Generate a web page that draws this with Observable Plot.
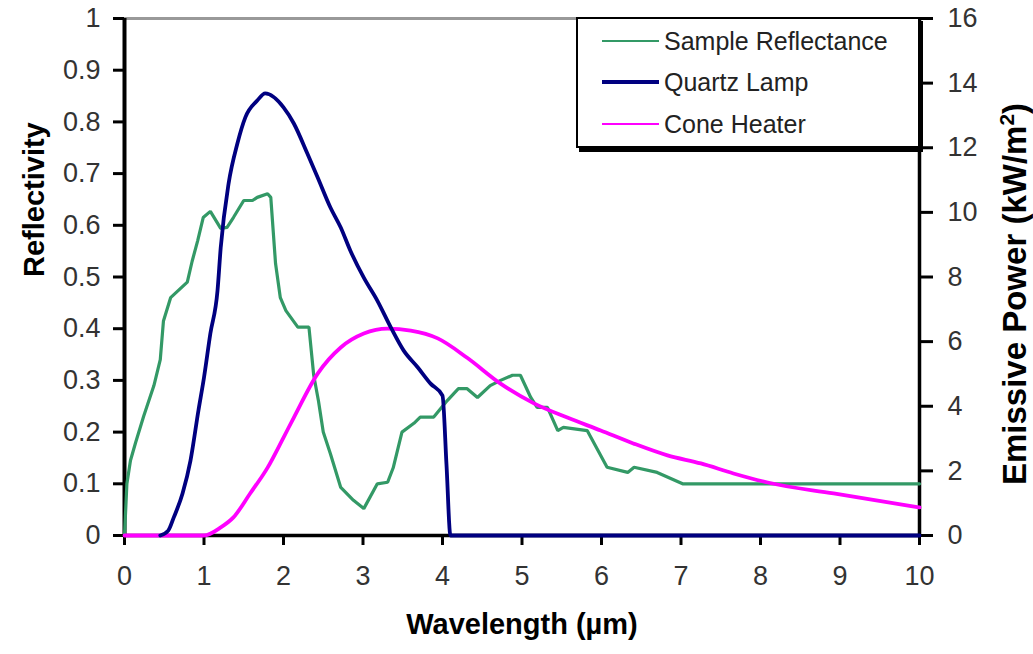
<!DOCTYPE html>
<html><head><meta charset="utf-8">
<script src="https://cdn.jsdelivr.net/npm/d3@7"></script>
<script src="https://cdn.jsdelivr.net/npm/@observablehq/plot@0.6"></script>
<style>
body{margin:0;background:#fff;font-family:"Liberation Sans",Arial,sans-serif}
#wrap{position:relative;width:1033px;height:654px;overflow:hidden}
.legend{position:absolute;left:576px;top:17px;width:340px;height:127px;border:2px solid #000;box-shadow:3px 4px 0 #000;background:#fff}
.row{position:absolute;left:24px;height:30px;display:flex;align-items:center;font-size:25px;color:#222;white-space:nowrap}
.sw{width:57px;margin-right:5px}
</style></head><body><div id="wrap"></div>
<script>
// Wavelength (µm) ticks and axis ticks
const xTicks = [0,1,2,3,4,5,6,7,8,9,10];
const leftTicks = [0,0.1,0.2,0.3,0.4,0.5,0.6,0.7,0.8,0.9,1];
const rightTicks = [0,2,4,6,8,10,12,14,16];
const rightMax = 16;

// Sample Reflectance (left axis, reflectivity)
const reflX = [0,0.03,0.075,0.14,0.24,0.37,0.45,0.49,0.58,0.79,0.85,0.92,0.99,1.08,1.21,1.29,1.37,1.5,1.61,1.67,1.8,1.84,1.9,1.96,2.03,2.18,2.32,2.38,2.44,2.5,2.59,2.72,2.88,3.01,3.18,3.31,3.38,3.49,3.64,3.72,3.89,4.06,4.2,4.31,4.44,4.6,4.73,4.88,4.98,5.11,5.19,5.32,5.45,5.52,5.82,6.07,6.33,6.41,6.7,7.02,10];
const reflY = [0,0.1,0.145,0.18,0.23,0.29,0.34,0.415,0.46,0.49,0.53,0.57,0.615,0.627,0.594,0.596,0.615,0.648,0.648,0.654,0.661,0.654,0.526,0.46,0.435,0.403,0.403,0.31,0.26,0.2,0.158,0.093,0.068,0.052,0.1,0.103,0.131,0.2,0.217,0.229,0.229,0.261,0.284,0.284,0.267,0.29,0.3,0.31,0.31,0.267,0.248,0.248,0.203,0.209,0.203,0.132,0.122,0.132,0.122,0.1,0.1];

// Quartz Lamp (right axis, kW/m²)
const lampX = [0.45,0.55,0.62,0.73,0.83,0.93,1.0,1.08,1.17,1.21,1.31,1.42,1.52,1.67,1.77,2.0,2.13,2.3,2.43,2.59,2.72,2.84,3.01,3.18,3.35,3.51,3.69,3.85,4.0,4.05,4.1,10];
const lampY = [0,0.15,0.56,1.3,2.32,3.87,4.89,6.25,7.58,8.9,10.9,12.13,12.94,13.46,13.68,13.25,12.75,11.82,11.08,10.15,9.53,8.82,7.98,7.27,6.44,5.73,5.2,4.7,4.33,2.2,0,0];

// Cone Heater (right axis, kW/m²)
const coneX = [0,1.0,1.21,1.37,1.58,1.8,2.0,2.13,2.43,2.72,3.01,3.31,3.6,3.94,4.31,4.73,5.15,5.57,5.99,6.4,6.83,7.25,7.66,8.09,8.92,10];
const coneY = [0,0,0.25,0.56,1.3,2.1,3.03,3.65,5.01,5.82,6.25,6.4,6.34,6.1,5.5,4.7,4.09,3.65,3.25,2.85,2.48,2.23,1.92,1.64,1.3,0.87];

const seriesNames = ["Sample Reflectance","Quartz Lamp","Cone Heater"];
const seriesColors = ["#339966","#000080","#ff00ff"];
const seriesWidths = [3.2,3.8,3.8];
const legendWidths = [2.5,4,2.5];

const refl = reflX.map((x,i)=>({x, y: reflY[i]}));
const lamp = lampX.map((x,i)=>({x, y: lampY[i]/rightMax}));
const cone = coneX.map((x,i)=>({x, y: coneY[i]/rightMax}));

const font = '"Liberation Sans", Arial, sans-serif';
const svg = Plot.plot({
  width:1033, height:654,
  marginLeft:124, marginRight:114, marginTop:18, marginBottom:119,
  style:{fontFamily:font, fontSize:"27px", background:"#fff", color:"#333", overflow:"visible"},
  x:{domain:[0,10]},
  y:{domain:[0,1]},
  marks:[
    Plot.ruleY([1],{stroke:"#999",strokeWidth:3}),
    Plot.axisY(leftTicks,{anchor:"left",tickSize:11,tickPadding:13,stroke:"#000",strokeWidth:3,fill:"#333",fontSize:27,label:null,tickFormat:d=>String(d)}),
    Plot.axisY(rightTicks.map(v=>v/rightMax),{anchor:"right",tickSize:13,tickPadding:15,stroke:"#000",strokeWidth:3,fill:"#333",fontSize:27,label:null,tickFormat:d=>String(Math.round(d*rightMax))}),
    Plot.axisX(xTicks,{anchor:"bottom",tickSize:10,tickPadding:20,stroke:"#000",strokeWidth:3,fill:"#333",fontSize:27,label:null,tickFormat:d=>String(d)}),
    Plot.ruleX([0],{stroke:"#000",strokeWidth:4}),
    Plot.ruleX([10],{stroke:"#000",strokeWidth:3.5}),
    Plot.ruleY([0],{stroke:"#000",strokeWidth:3.5}),
    Plot.line(refl,{x:"x",y:"y",stroke:seriesColors[0],strokeWidth:seriesWidths[0],strokeLinejoin:"miter"}),
    Plot.line(cone,{x:"x",y:"y",stroke:seriesColors[2],strokeWidth:seriesWidths[2],curve:"monotone-x"}),
    Plot.line(lamp,{x:"x",y:"y",stroke:seriesColors[1],strokeWidth:seriesWidths[1],curve:"monotone-x"}),
    Plot.text(["Reflectivity"],{frameAnchor:"left",dx:-90,rotate:-90,fontWeight:"bold",fontSize:29,fill:"#000"}),
    Plot.text(["Wavelength (µm)"],{frameAnchor:"bottom",dy:98,fontWeight:"bold",fontSize:29,fill:"#000"})
  ]
});

const t = d3.select(svg).append("text")
  .attr("transform","translate(1026,294) rotate(-90)")
  .attr("text-anchor","middle")
  .attr("font-family",font)
  .attr("font-weight","bold")
  .attr("font-size",33)
  .attr("fill","#000");
t.append("tspan").text("Emissive Power (kW/m");
t.append("tspan").attr("dy",-12).attr("font-size",21).text("2");
t.append("tspan").attr("dy",12).text(")");

const wrap = document.getElementById("wrap");
wrap.appendChild(svg);

const leg = document.createElement("div");
leg.className = "legend";
const rowsTop = [7,48,90];
seriesNames.forEach((name,i)=>{
  const r = document.createElement("div");
  r.className = "row";
  r.style.top = rowsTop[i]+"px";
  const sw = document.createElement("div");
  sw.className = "sw";
  sw.style.height = legendWidths[i]+"px";
  sw.style.background = seriesColors[i];
  const tx = document.createElement("span");
  tx.textContent = name;
  r.appendChild(sw); r.appendChild(tx);
  leg.appendChild(r);
});
wrap.appendChild(leg);
</script>
</body></html>
